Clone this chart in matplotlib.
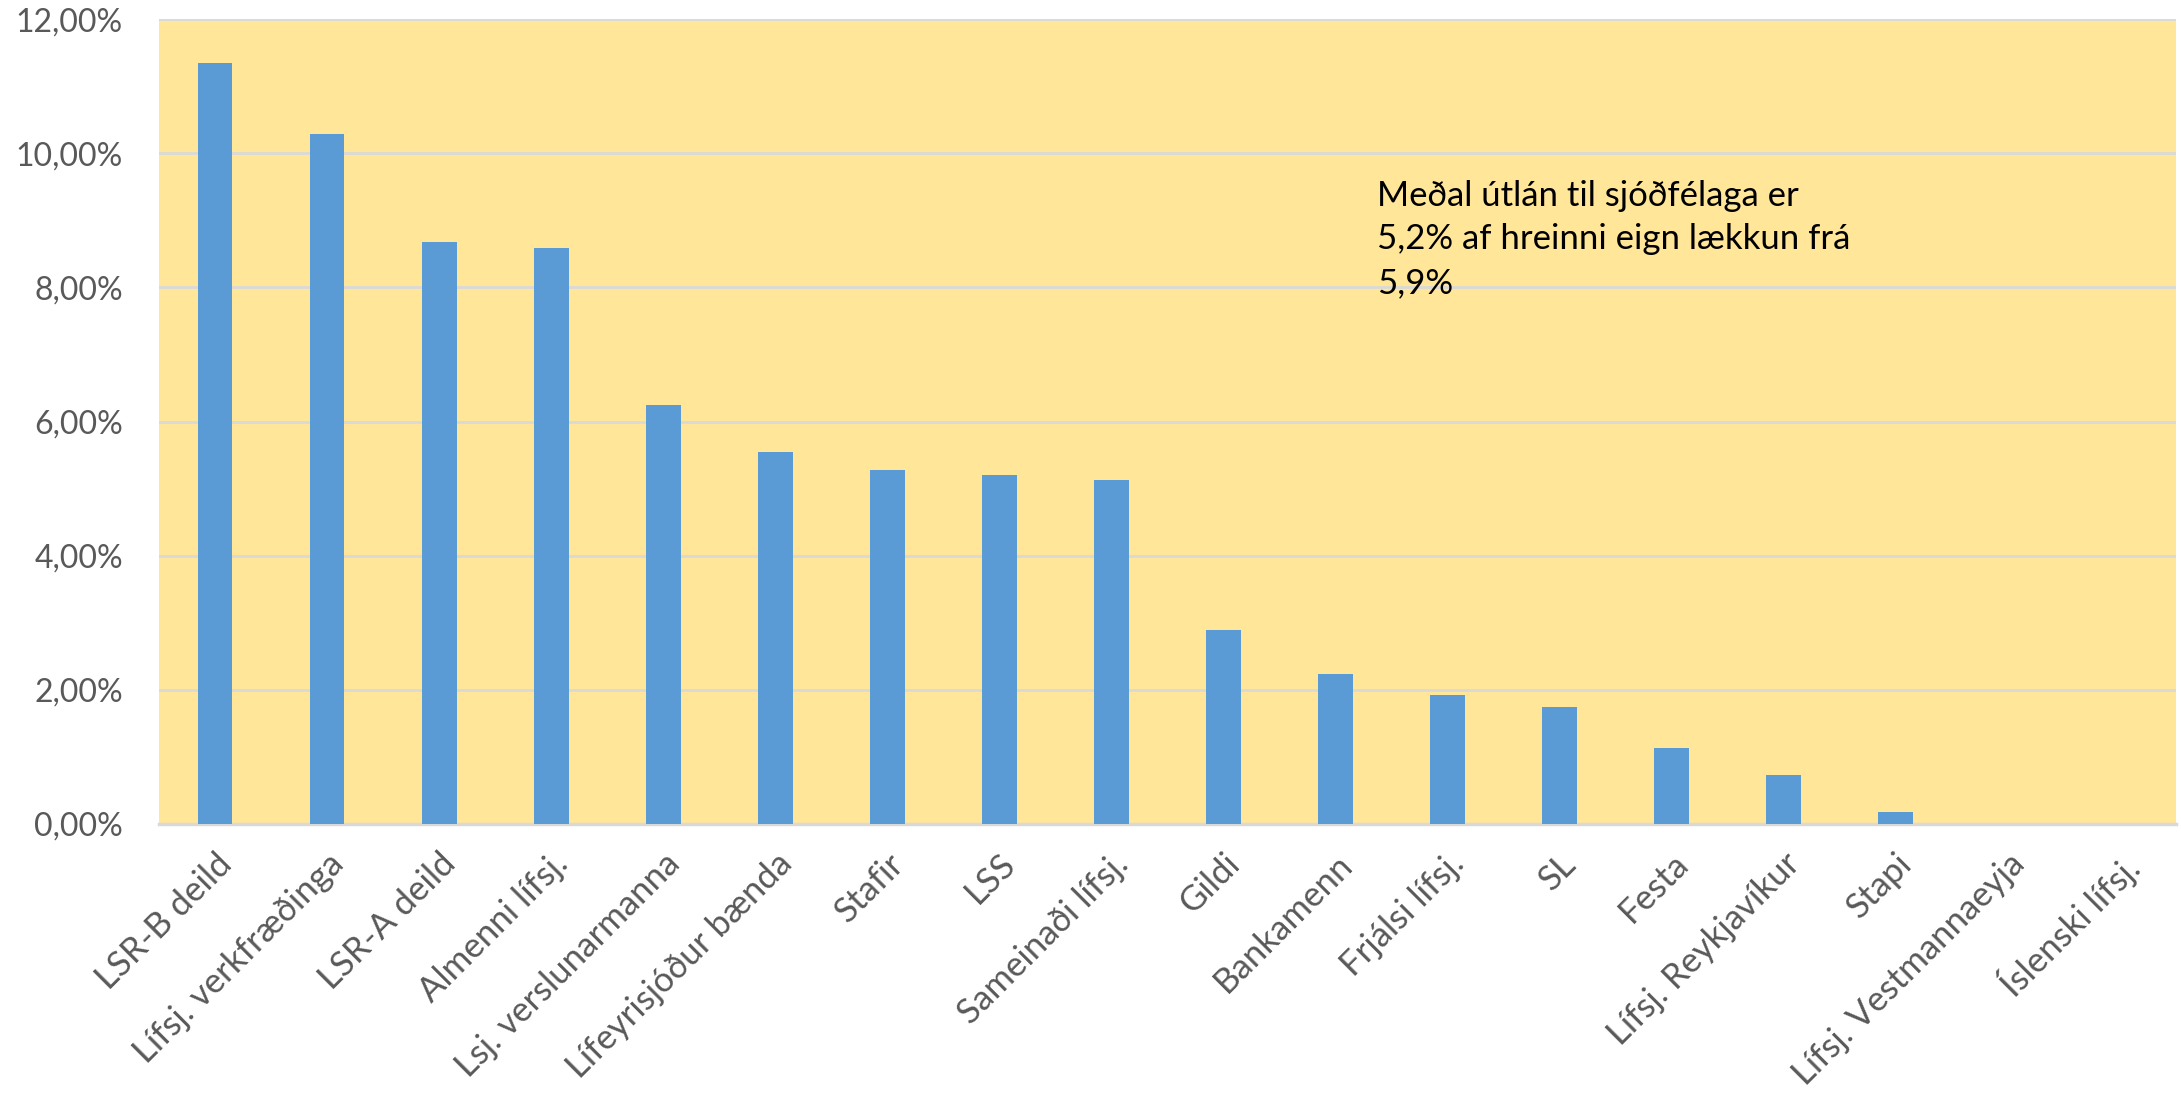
import matplotlib
matplotlib.use('Agg')
import matplotlib.pyplot as plt
import numpy as np

# values (share of net assets, %)
funds = ['LSR-B deild', 'Lífsj. verkfræðinga', 'LSR-A deild', 'Almenni lífsj.',
         'Lsj. verslunarmanna', 'Lífeyrisjóður bænda', 'Stafir', 'LSS',
         'Sameinaði lífsj.', 'Gildi', 'Bankamenn', 'Frjálsi lífsj.', 'SL',
         'Festa', 'Lífsj. Reykjavíkur', 'Stapi', 'Lífsj. Vestmannaeyja',
         'Íslenski lífsj.']
loans_pct = [11.34, 10.28, 8.67, 8.59, 6.25, 5.54, 5.27, 5.21, 5.13,
             2.89, 2.24, 1.93, 1.74, 1.14, 0.73, 0.18, 0.0, 0.0]
yticks = [0, 2, 4, 6, 8, 10, 12]
ytick_labels = ['0,00%', '2,00%', '4,00%', '6,00%', '8,00%', '10,00%', '12,00%']
note = 'Meðal útlán til sjóðfélaga er\n5,2% af hreinni eign lækkun frá\n5,9%'

plt.rcParams['font.family'] = ['Lato', 'DejaVu Sans']

fig = plt.figure(figsize=(21.81, 10.95), dpi=100)
ax = fig.add_axes([0.0729, 0.2475, 0.9248, 0.7351])
ax.set_facecolor('#FFE699')

x = np.arange(len(funds))
ax.bar(x, loans_pct, width=0.31, color='#5B9BD5', zorder=3)

ax.set_xlim(-0.5, len(funds) - 0.5)
ax.set_ylim(0, 12)
ax.set_yticks(yticks)
ax.set_yticklabels(ytick_labels)
ax.yaxis.grid(True, color='#D9D9D9', linewidth=2, zorder=1)
ax.set_axisbelow(True)

for s in ['top', 'right', 'left']:
    ax.spines[s].set_visible(False)
ax.spines['bottom'].set_color('#D9D9D9')
ax.spines['bottom'].set_linewidth(2.5)

ax.set_xticks(x)
ax.set_xticklabels(funds, rotation=45, ha='right', rotation_mode='anchor')
ax.tick_params(axis='both', length=0, labelcolor='#595959')
ax.tick_params(axis='y', pad=26, labelsize=23)
ax.tick_params(axis='x', pad=17, labelsize=25)

ax.text(0.604, 0.80, note, transform=ax.transAxes, fontsize=25,
        color='black', va='top', ha='left', linespacing=1.44)

fig.savefig('out.png', dpi=100)
plt.close()
